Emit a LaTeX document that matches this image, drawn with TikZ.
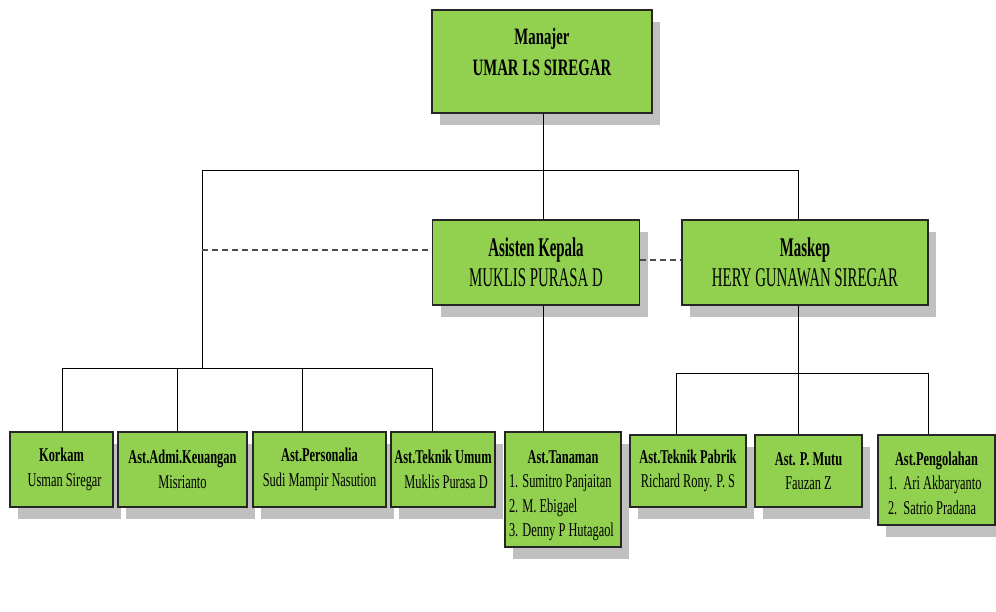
\documentclass[tikz,border=0pt]{standalone}
\usepackage{fontspec}
\setmainfont{Liberation Serif}
\newfontfamily\ftop{Liberation Serif}[FakeStretch=0.63]
\newfontfamily\fmid{Liberation Serif}[FakeStretch=0.55]
\newfontfamily\flow{Liberation Serif}[FakeStretch=0.635]
\usetikzlibrary{shadows}
\definecolor{boxgreen}{HTML}{92D050}
\definecolor{shadowgray}{HTML}{C0C0C0}
\newcommand\lline[2]{\makebox[#1][l]{#2}}
\begin{document}
\begin{tikzpicture}[x=1pt,y=-1pt,
  orgbox/.style={draw=black!85, line width=1.5pt, fill=boxgreen, inner sep=2pt,
    align=center, anchor=center,
    drop shadow={shadow xshift=8pt, shadow yshift=-12pt, fill=shadowgray, opacity=1}},
  topfont/.style={font=\ftop\fontsize{23.5}{31}\selectfont},
  midfont/.style={font=\fmid\fontsize{27}{30}\selectfont},
  lowfont/.style={font=\flow\fontsize{19.5}{24.5}\selectfont},
  conn/.style={draw=black, line width=0.8pt},
  dashconn/.style={draw=black!70, line width=1.4pt, dash pattern=on 6pt off 4pt}]
\useasboundingbox (0,0) rectangle (996,612);

\node[orgbox, topfont, minimum width=220pt, minimum height=103pt, text depth=20pt] (man) at (542,61.5)
  {\textbf{Manajer}\\\textbf{UMAR I.S SIREGAR}};
\node[orgbox, midfont, minimum width=207pt, minimum height=85pt] (ak) at (536,262.5)
  {\textbf{Asisten Kepala}\\MUKLIS PURASA D};
\node[orgbox, midfont, minimum width=246pt, minimum height=85pt] (mk) at (805,262.5)
  {\textbf{Maskep}\\HERY GUNAWAN SIREGAR};

\node[orgbox, lowfont, minimum width=103pt, minimum height=75pt] (korkam) at (61.5,469.5)
  {\textbf{Korkam}\\\ \ Usman Siregar};
\node[orgbox, lowfont, minimum width=129pt, minimum height=75pt] (admi) at (182.5,469.5)
  {\textbf{Ast.Admi.Keuangan}\\Misrianto};
\node[orgbox, lowfont, minimum width=133pt, minimum height=75pt, inner sep=0pt] (pers) at (319.5,469.5)
  {\textbf{Ast.Personalia}\\Sudi Mampir Nasution};
\node[orgbox, lowfont, minimum width=104pt, minimum height=75pt, inner sep=0pt] (tu) at (443,469.5)
  {\textbf{Ast.Teknik Umum}\\\ \ Muklis Purasa D};
\node[orgbox, lowfont, minimum width=116pt, minimum height=115pt, inner sep=0pt] (tan) at (563,489.5)
  {\rule{0pt}{25pt}\textbf{Ast.Tanaman}\\\lline{108pt}{1. Sumitro Panjaitan}\\\lline{108pt}{2. M. Ebigael}\\\lline{108pt}{3. Denny P Hutagaol}};
\node[orgbox, lowfont, minimum width=116pt, minimum height=72pt, inner sep=0pt] (tp) at (688,471)
  {\textbf{Ast.Teknik Pabrik}\\Richard Rony. P. S};
\node[orgbox, lowfont, minimum width=107pt, minimum height=72pt] (mutu) at (808.5,471)
  {\textbf{Ast. P. Mutu}\\Fauzan Z};
\node[orgbox, lowfont, minimum width=117pt, minimum height=90pt, inner sep=0pt] (peng) at (936.5,480)
  {\rule{0pt}{19.5pt}\textbf{Ast.Pengolahan}\\\lline{97pt}{1.\ \ Ari Akbaryanto}\\\lline{97pt}{2.\ \ Satrio Pradana}};

% junction coordinates
\coordinate (topbar) at (543,170);
\coordinate (leftdrop) at (202,170);
\coordinate (rightdrop) at (798,170);
\coordinate (lowbar) at (202,368);
\coordinate (lb1) at (62,368);
\coordinate (lb2) at (177,368);
\coordinate (lb3) at (302,368);
\coordinate (lb4) at (432,368);
\coordinate (mkbar) at (798,373);
\coordinate (rb1) at (676,373);
\coordinate (rb3) at (928,373);

% manajer -> asisten kepala (through top bar)
\draw[conn] (man.south -| topbar) -- (ak.north -| topbar);
\draw[conn] (leftdrop) -- (rightdrop) -- (rightdrop |- mk.north);
\draw[conn] (leftdrop) -- (lowbar);
% bottom left bar
\draw[conn] (lb1) -- (lb4);
\draw[conn] (lb1) -- (korkam.north -| lb1);
\draw[conn] (lb2) -- (admi.north -| lb2);
\draw[conn] (lb3) -- (pers.north -| lb3);
\draw[conn] (lb4) -- (tu.north -| lb4);
% asisten kepala -> tanaman
\draw[conn] (ak.south -| topbar) -- (tan.north -| topbar);
% maskep -> three
\draw[conn] (mk.south -| mkbar) -- (mkbar);
\draw[conn] (rb1) -- (rb3);
\draw[conn] (rb1) -- (tp.north -| rb1);
\draw[conn] (mkbar) -- (mutu.north -| mkbar);
\draw[conn] (rb3) -- (peng.north -| rb3);
% dashed links
\coordinate (dl) at (202,250);
\draw[dashconn] (dl) -- (ak.west |- dl);
\coordinate (dr) at (660,260);
\draw[dashconn] (ak.east |- dr) -- (mk.west |- dr);
\end{tikzpicture}
\end{document}
